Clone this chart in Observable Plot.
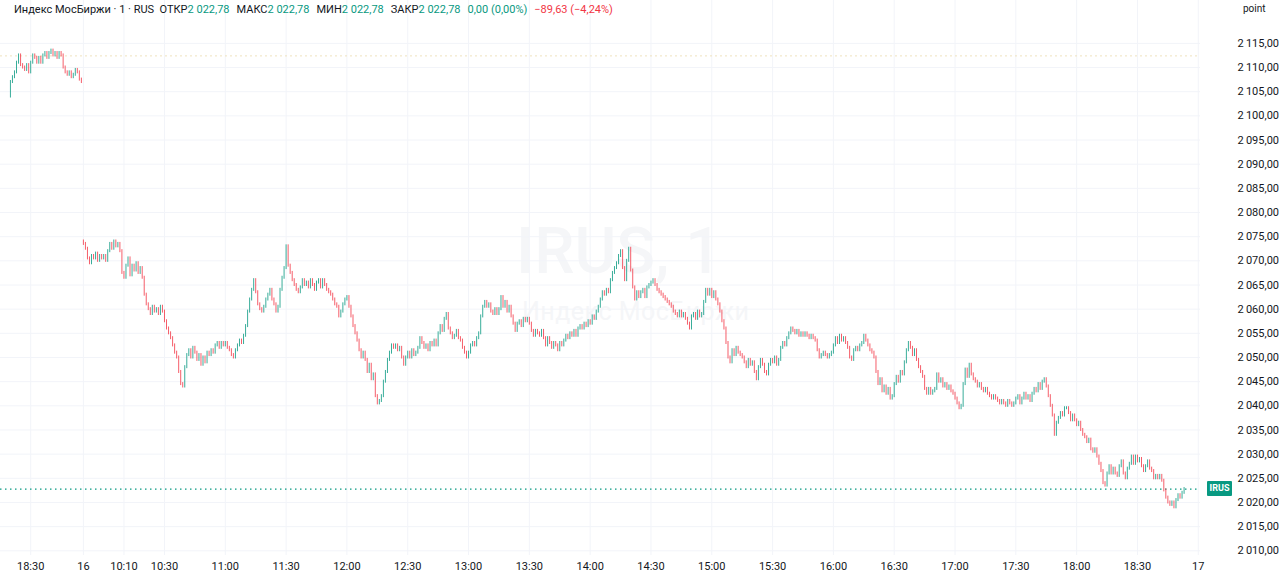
<!DOCTYPE html>
<html>
<head>
<meta charset="utf-8">
<script src="https://cdn.jsdelivr.net/npm/d3@7"></script>
<script src="https://cdn.jsdelivr.net/npm/@observablehq/plot@0.6"></script>
<style>
  body { margin: 0; background: #fff; font-family: Roboto, "Noto Sans", sans-serif; }
  #wrap { position: relative; width: 1280px; height: 586px; overflow: hidden; background: #fff; }
  #chart { position: absolute; left: 0; top: 0; }
  .wm { position: absolute; color: #f5f6f8; white-space: nowrap; font-family: Roboto, sans-serif; }
  #head { position: absolute; left: 14px; top: 3px; font-size: 11px; color: #131722; white-space: nowrap; }
  #head .v { color: #089981; margin-right: 7px; }
  #head .r { color: #f23645; }
  #unit { position: absolute; left: 1243px; top: 3px; font-size: 10px; color: #131722; }
  #tag { position: absolute; left: 1207px; width: 25px; height: 15px; background: #089981; color: #fff;
         font-size: 9px; font-weight: 700; line-height: 15px; text-align: center; border-radius: 1px; }
</style>
</head>
<body>
<div id="wrap">
  <div class="wm" style="left:516px;top:214px;font-size:64px;font-weight:500;">IRUS, 1</div>
  <div class="wm" style="left:522px;top:297px;font-size:25px;letter-spacing:0.5px;">Индекс МосБиржи</div>
  <div id="chart"></div>
  <div id="head">Индекс МосБиржи · 1 · RUS&nbsp;&nbsp;ОТКР<span class="v">2 022,78</span>МАКС<span class="v">2 022,78</span>МИН<span class="v">2 022,78</span>ЗАКР<span class="v">2 022,78</span><span class="v">0,00 (0,00%)</span><span class="r">−89,63 (−4,24%)</span></div>
  <div id="unit">point</div>
  <div id="tag">IRUS</div>
</div>
<script>
// 1-minute closes, evening of the 15th (18:20 onwards)
const prevOpen = 2104;
const prevDay = [2107, 2108, 2109, 2111, 2112.5, 2110.5, 2110, 2109.5, 2110.5, 2109,
  2111, 2112.5, 2112, 2111, 2112, 2111, 2112.5, 2113, 2112, 2113,
  2113.5, 2112.5, 2113, 2112, 2113, 2112.5, 2110, 2109, 2108.5, 2109,
  2108, 2108.5, 2109.5, 2109, 2107.5, 2107];

// 1-minute closes, the 16th from 09:50
const dayOpen = 2074;
const day16 = [
  2073.5, 2072.5, 2070.5, 2069.5, 2071, 2070.5, 2071.5, 2070, 2071, 2070.5,
  2071, 2070, 2072, 2073.5, 2072.5, 2074, 2073, 2073.5, 2072, 2067.5,
  2066.5, 2069, 2070.5, 2067, 2069, 2068, 2069.5, 2067.5, 2068.5, 2066.5,
  2063, 2061, 2060, 2059, 2060.5, 2059.5, 2060, 2059, 2060.5, 2059.5,
  2057.5, 2056, 2055, 2054, 2052.5, 2051, 2050, 2047, 2044.5, 2044,
  2048, 2050.5, 2051.5, 2050, 2052, 2051, 2049.5, 2050.5, 2048.5, 2050,
  2049, 2051, 2050.5, 2051.5, 2051, 2052.5, 2053, 2052, 2053, 2052.5,
  2053, 2052, 2051.5, 2050.5, 2050, 2051.5, 2052.5, 2053.5, 2053, 2054.5,
  2056.5, 2059.5, 2062, 2064, 2066, 2063.5, 2061, 2060, 2059.5, 2060.5,
  2062, 2063, 2064, 2062, 2061, 2059.5, 2060.5, 2064, 2066.5, 2068.5,
  2073, 2069, 2067.5, 2066, 2065, 2064, 2063.5, 2064.5, 2066, 2065,
  2065.5, 2064.5, 2066, 2065, 2064, 2065.5, 2066, 2064.5, 2066, 2065,
  2064, 2063.5, 2063, 2062, 2061, 2060.5, 2058.5, 2059.5, 2061, 2062,
  2062.5, 2060.5, 2058.5, 2056.5, 2055, 2053.5, 2051.5, 2050, 2051, 2049.5,
  2047, 2048.5, 2045.5, 2046.5, 2042, 2040.5, 2041, 2042, 2045, 2047,
  2049.5, 2051, 2052.5, 2052, 2052.5, 2051.5, 2052, 2050, 2048.5, 2050,
  2051, 2050, 2051.5, 2050.5, 2051, 2052, 2054, 2053, 2052, 2052.5,
  2051.5, 2053, 2052.5, 2053.5, 2052.5, 2055, 2056.5, 2055.5, 2058, 2059,
  2056, 2055, 2054, 2054.5, 2055.5, 2054, 2053.5, 2052, 2051, 2050,
  2051, 2052.5, 2053, 2052.5, 2054, 2055, 2058.5, 2060.5, 2061.5, 2060.5,
  2061, 2059.5, 2059, 2060, 2059, 2060, 2062.5, 2060.5, 2061.5, 2059.5,
  2060.5, 2058.5, 2057, 2055.5, 2057, 2057.5, 2056.5, 2058, 2057.5, 2058,
  2057, 2055.5, 2054.5, 2055.5, 2055, 2054.5, 2055.5, 2054, 2052.5, 2054,
  2053, 2052, 2053, 2052.5, 2051.5, 2053, 2052.5, 2053.5, 2054.5, 2054,
  2055, 2054.5, 2055.5, 2054.5, 2056, 2056.5, 2056, 2057, 2056.5, 2057.5,
  2057, 2058.5, 2058, 2059.5, 2060.5, 2062, 2063.5, 2063, 2064, 2063.5,
  2066, 2067.5, 2068.5, 2069.5, 2071, 2072, 2068.5, 2066, 2070, 2072.5,
  2068, 2064.5, 2062, 2063.5, 2062.5, 2063.5, 2064, 2062.5, 2064.5, 2065,
  2065.5, 2066, 2065, 2064, 2063.5, 2063, 2062.5, 2062, 2061.5, 2061,
  2060.5, 2059.5, 2059, 2058.5, 2059.5, 2058.5, 2059, 2058, 2057, 2056,
  2058.5, 2059, 2058, 2059.5, 2058.5, 2059, 2061.5, 2064, 2063, 2064,
  2062.5, 2063.5, 2062, 2061, 2059.5, 2057.5, 2056, 2053, 2050, 2049,
  2051.5, 2050.5, 2052, 2051, 2050.5, 2050, 2049, 2048, 2049.5, 2048.5,
  2049, 2047, 2045.5, 2048, 2049.5, 2048.5, 2047, 2046.5, 2048.5, 2049.5,
  2049, 2050, 2048.5, 2049.5, 2052, 2053, 2052.5, 2054, 2055, 2056,
  2055.5, 2055, 2055.5, 2054.5, 2055, 2054.5, 2055, 2054.5, 2054, 2054.5,
  2054, 2053.5, 2051.5, 2050, 2050.5, 2051, 2050.5, 2050, 2050.5, 2051,
  2052.5, 2054, 2053, 2054.5, 2053.5, 2054, 2053, 2052, 2050, 2049.5,
  2051.5, 2052, 2051.5, 2052.5, 2053, 2054.5, 2053.5, 2052.5, 2051.5, 2051,
  2050, 2047, 2044.5, 2045.5, 2043, 2044, 2042.5, 2043.5, 2041.5, 2042,
  2044.5, 2046, 2045, 2047, 2046.5, 2049, 2051.5, 2053, 2052, 2050.5,
  2051.5, 2049.5, 2048, 2047, 2046, 2043.5, 2042.5, 2043.5, 2042.5, 2043,
  2043.5, 2046.5, 2045, 2045.5, 2044, 2044.5, 2043.5, 2044, 2043, 2042.5,
  2041.5, 2040.5, 2039.5, 2040, 2044.5, 2047.5, 2046, 2048.5, 2046.5, 2045.5,
  2045, 2044, 2044.5, 2043.5, 2043, 2043.5, 2042.5, 2042, 2041.5, 2042,
  2041.5, 2041, 2040.5, 2041, 2040.5, 2040, 2041, 2040.5, 2040, 2040.5,
  2041.5, 2042, 2040.5, 2041.5, 2042.5, 2041.5, 2042, 2041, 2042.5, 2043.5,
  2043, 2044.5, 2043.5, 2045, 2045.5, 2044, 2042, 2040, 2038, 2034,
  2036.5, 2037.5, 2038.5, 2038, 2039.5, 2039.5, 2038.5, 2037, 2038, 2037,
  2036, 2036.5, 2035, 2034, 2033.5, 2032.5, 2033, 2031, 2030.5, 2031,
  2029.5, 2028, 2026.5, 2024, 2023.5, 2026, 2027.5, 2026, 2027, 2026,
  2025.5, 2027.5, 2028.5, 2026, 2025, 2027, 2028, 2029.5, 2028, 2029.5,
  2028.5, 2029, 2027.5, 2026.5, 2027.5, 2028.5, 2027, 2026.5, 2025, 2025.5,
  2025, 2025.5, 2024.5, 2022.5, 2021, 2020, 2019.5, 2020, 2019, 2020.5,
  2021.5, 2021, 2022, 2022.78];

const lastPrice = 2022.78;
const prevClose = 2112.41;

// x axis: bar positions and their labels
const tickBars = [10, 36, 56, 76, 106, 136, 166, 196, 226, 256, 286, 316, 346, 376, 406, 436, 466, 496, 526, 556, 586];
const tickLabels = ["18:30", "16", "10:10", "10:30", "11:00", "11:30", "12:00", "12:30", "13:00", "13:30", "14:00",
  "14:30", "15:00", "15:30", "16:00", "16:30", "17:00", "17:30", "18:00", "18:30", "17"];

const yTicks = [2010, 2015, 2020, 2025, 2030, 2035, 2040, 2045, 2050, 2055, 2060, 2065,
  2070, 2075, 2080, 2085, 2090, 2095, 2100, 2105, 2110, 2115];

const green = "#089981", red = "#f23645";

const ru = d3.formatLocale({decimal: ",", thousands: "\u2009", grouping: [3], currency: ["", ""]});
const fmt = ru.format(",.2f");

const closes = prevDay.concat(day16);
const bars = closes.map((c, i) => {
  const o = i === 0 ? prevOpen : i === prevDay.length ? dayOpen : closes[i - 1];
  return {i, open: o, close: c, hi: Math.max(o, c), lo: Math.min(o, c)};
});

const candle = (data, color) => Plot.ruleX(data, {
  x: "i", y1: "hi", y2: "lo", stroke: color, strokeWidth: 1, strokeOpacity: 0.8,
  insetTop: -1.5, insetBottom: -1.5
});

let chart = Plot.plot({
  width: 1280,
  height: 586,
  marginLeft: 0,
  marginRight: 80,
  marginTop: 0,
  marginBottom: 31,
  style: {background: "transparent", fontFamily: "Roboto, sans-serif", fontSize: "11px", color: "#131722"},
  x: {
    domain: [-4.9, 587.1],
    ticks: tickBars,
    tickFormat: (d) => tickLabels[tickBars.indexOf(d)],
    tickSize: 0,
    tickPadding: 7,
    label: null
  },
  y: {
    domain: [2009.03, 2123.87],
    axis: "right",
    ticks: yTicks,
    tickFormat: fmt,
    tickSize: 0,
    tickPadding: 37,
    label: null
  },
  marks: [
    Plot.ruleY(yTicks, {stroke: "#f2f4f9"}),
    Plot.ruleX(tickBars, {stroke: "#f2f4f9"}),
    Plot.ruleY([prevClose], {stroke: "#efe2bd", strokeDasharray: "2,3"}),
    Plot.ruleY([lastPrice], {stroke: green, strokeWidth: 1.2, strokeDasharray: "1.5,3.5"}),
    candle(bars.filter((d) => d.close >= d.open), green),
    candle(bars.filter((d) => d.close < d.open), red)
  ]
});

d3.select("#chart").append(() => chart);
const yPos = chart.scale("y").apply(lastPrice);
d3.select("#tag").style("top", (yPos - 7.5) + "px");
</script>
</body>
</html>
